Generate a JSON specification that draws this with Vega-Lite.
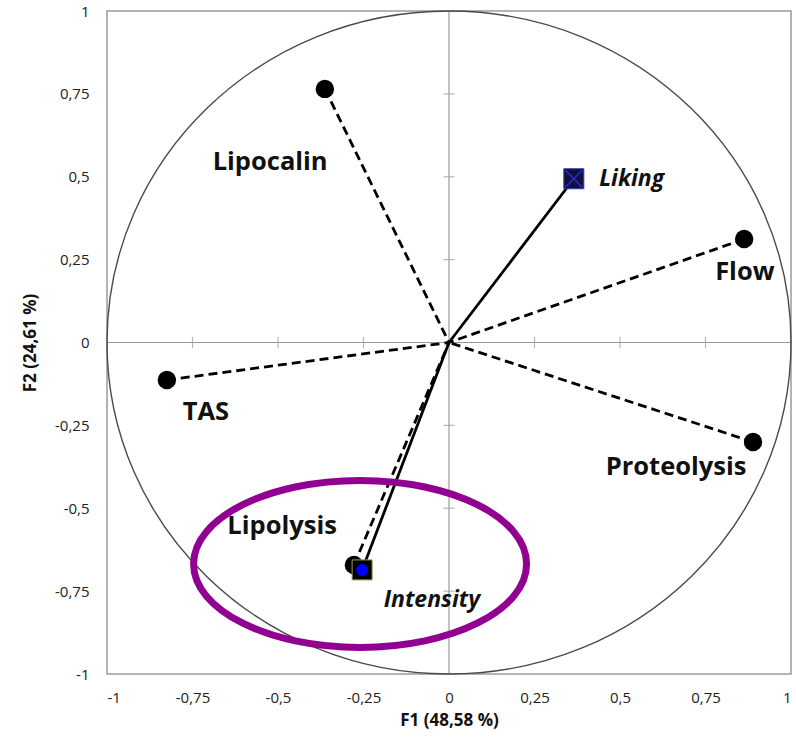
{
  "$schema": "https://vega.github.io/schema/vega-lite/v6.json",
  "width": 684,
  "height": 663,
  "autosize": {"type": "none"},
  "padding": {"left": 107, "top": 11, "right": 5, "bottom": 65},
  "background": "white",
  "config": {
    "view": {"stroke": "#9a9a9a", "strokeWidth": 1.5},
    "font": "Open Sans"
  },
  "datasets": {
    "vars": [
      {"name": "Lipocalin", "type": "var", "x": -0.363, "y": 0.765, "lx": -0.523, "ly": 0.544},
      {"name": "Flow", "type": "var", "x": 0.863, "y": 0.312, "lx": 0.865, "ly": 0.213},
      {"name": "TAS", "type": "var", "x": -0.825, "y": -0.113, "lx": -0.711, "ly": -0.21},
      {"name": "Proteolysis", "type": "var", "x": 0.889, "y": -0.3, "lx": 0.664, "ly": -0.376},
      {"name": "Lipolysis", "type": "var", "x": -0.278, "y": -0.671, "lx": -0.488, "ly": -0.553},
      {"name": "Liking", "type": "sup", "x": 0.365, "y": 0.494, "lx": 0.534, "ly": 0.492},
      {"name": "Intensity", "type": "sup", "x": -0.254, "y": -0.686, "lx": -0.05, "ly": -0.777}
    ],
    "ticks": [
      {"t": -0.75}, {"t": -0.5}, {"t": -0.25}, {"t": 0.25}, {"t": 0.5}, {"t": 0.75}
    ],
    "circle": [{"cx": 0, "cy": 0}],
    "highlight": [{"cx": -0.26, "cy": -0.668}]
  },
  "encoding": {
    "x": {"type": "quantitative", "scale": {"domain": [-1, 1], "nice": false, "zero": false},
      "title": "F1 (48,58 %)",
      "axis": {"values": [-1, -0.75, -0.5, -0.25, 0, 0.25, 0.5, 0.75, 1], "grid": false, "ticks": false, "domain": false,
        "labelExpr": "replace(toString(datum.value), '.', ',')", "labelFontSize": 15, "labelColor": "#222", "labelPadding": 16,
        "titleFontSize": 17, "titleFontWeight": "bold", "titleColor": "#111", "titleY": 46, "titleBaseline": "middle"}},
    "y": {"type": "quantitative", "scale": {"domain": [-1, 1], "nice": false, "zero": false},
      "title": "F2 (24,61 %)",
      "axis": {"values": [-1, -0.75, -0.5, -0.25, 0, 0.25, 0.5, 0.75, 1], "grid": false, "ticks": false, "domain": false,
        "labelExpr": "replace(toString(datum.value), '.', ',')", "labelFontSize": 15, "labelColor": "#222", "labelPadding": 18,
        "titleFontSize": 17, "titleFontWeight": "bold", "titleColor": "#111", "titleX": -77, "titleBaseline": "middle"}}
  },
  "layer": [
    {
      "data": {"name": "circle"},
      "mark": {"type": "rule", "color": "#9a9a9a", "strokeWidth": 1.2},
      "encoding": {
        "x": {"field": "cx", "type": "quantitative"}
      }
    },
    {
      "data": {"name": "circle"},
      "mark": {"type": "rule", "color": "#9a9a9a", "strokeWidth": 1.2},
      "encoding": {
        "y": {"field": "cy", "type": "quantitative"}
      }
    },
    {
      "data": {"name": "ticks"},
      "mark": {"type": "tick", "orient": "horizontal", "color": "#9a9a9a", "size": 11, "thickness": 1.2},
      "encoding": {
        "x": {"datum": 0, "type": "quantitative"},
        "y": {"field": "t", "type": "quantitative"}
      }
    },
    {
      "data": {"name": "ticks"},
      "mark": {"type": "tick", "orient": "vertical", "color": "#9a9a9a", "size": 11, "thickness": 1.2},
      "encoding": {
        "x": {"field": "t", "type": "quantitative"},
        "y": {"datum": 0, "type": "quantitative"}
      }
    },
    {
      "data": {"name": "circle"},
      "mark": {"type": "point", "shape": "M-1,0A1,0.9693,0,1,1,1,0A1,0.9693,0,1,1,-1,0Z", "size": 467856, "filled": false, "stroke": "#4a4a4a", "strokeWidth": 1.4, "opacity": 1},
      "encoding": {
        "x": {"field": "cx", "type": "quantitative"},
        "y": {"field": "cy", "type": "quantitative"}
      }
    },
    {
      "data": {"name": "vars"},
      "transform": [{"filter": "datum.type == 'var'"}],
      "mark": {"type": "rule", "color": "#000", "strokeWidth": 2.8, "strokeDash": [9, 5]},
      "encoding": {
        "x": {"field": "x", "type": "quantitative"},
        "y": {"field": "y", "type": "quantitative"},
        "x2": {"datum": 0},
        "y2": {"datum": 0}
      }
    },
    {
      "data": {"name": "vars"},
      "transform": [{"filter": "datum.type == 'sup'"}],
      "mark": {"type": "rule", "color": "#000", "strokeWidth": 2.8},
      "encoding": {
        "x": {"field": "x", "type": "quantitative"},
        "y": {"field": "y", "type": "quantitative"},
        "x2": {"datum": 0},
        "y2": {"datum": 0}
      }
    },
    {
      "data": {"name": "vars"},
      "transform": [{"filter": "datum.type == 'var'"}],
      "mark": {"type": "point", "shape": "circle", "filled": true, "color": "#000", "size": 340, "opacity": 1},
      "encoding": {
        "x": {"field": "x", "type": "quantitative"},
        "y": {"field": "y", "type": "quantitative"}
      }
    },
    {
      "data": {"name": "vars"},
      "transform": [{"filter": "datum.name == 'Liking'"}],
      "mark": {"type": "point", "shape": "square", "filled": true, "fill": "#101040", "stroke": "#3a3aa0", "strokeWidth": 1, "size": 400, "opacity": 1},
      "encoding": {
        "x": {"field": "x", "type": "quantitative"},
        "y": {"field": "y", "type": "quantitative"}
      }
    },
    {
      "data": {"name": "vars"},
      "transform": [{"filter": "datum.name == 'Liking'"}],
      "mark": {"type": "point", "shape": "M-0.85,-0.85L0.85,0.85M0.85,-0.85L-0.85,0.85", "filled": false, "stroke": "#2a2ad0", "strokeWidth": 1.5, "size": 400, "opacity": 1},
      "encoding": {
        "x": {"field": "x", "type": "quantitative"},
        "y": {"field": "y", "type": "quantitative"}
      }
    },
    {
      "data": {"name": "vars"},
      "transform": [{"filter": "datum.name == 'Intensity'"}],
      "mark": {"type": "point", "shape": "square", "filled": true, "fill": "#000", "stroke": "#9a9a50", "strokeWidth": 1, "size": 400, "opacity": 1},
      "encoding": {
        "x": {"field": "x", "type": "quantitative"},
        "y": {"field": "y", "type": "quantitative"}
      }
    },
    {
      "data": {"name": "vars"},
      "transform": [{"filter": "datum.name == 'Intensity'"}],
      "mark": {"type": "point", "shape": "circle", "filled": true, "color": "#0000ff", "size": 144, "opacity": 1},
      "encoding": {
        "x": {"field": "x", "type": "quantitative"},
        "y": {"field": "y", "type": "quantitative"}
      }
    },
    {
      "data": {"name": "vars"},
      "transform": [{"filter": "datum.type == 'var'"}],
      "mark": {"type": "text", "font": "Open Sans", "fontSize": 25.5, "fontWeight": "bold", "color": "#111", "align": "center", "baseline": "middle"},
      "encoding": {
        "x": {"field": "lx", "type": "quantitative"},
        "y": {"field": "ly", "type": "quantitative"},
        "text": {"field": "name"}
      }
    },
    {
      "data": {"name": "vars"},
      "transform": [{"filter": "datum.type == 'sup'"}],
      "mark": {"type": "text", "font": "Open Sans", "fontSize": 23, "fontWeight": "bold", "fontStyle": "italic", "color": "#111", "align": "center", "baseline": "middle"},
      "encoding": {
        "x": {"field": "lx", "type": "quantitative"},
        "y": {"field": "ly", "type": "quantitative"},
        "text": {"field": "name"}
      }
    },
    {
      "data": {"name": "highlight"},
      "mark": {"type": "point", "shape": "M-1,0A1,0.5015,0,1,1,1,0A1,0.5015,0,1,1,-1,0Z", "size": 110889, "filled": false, "stroke": "#920092", "strokeWidth": 7, "opacity": 1},
      "encoding": {
        "x": {"field": "cx", "type": "quantitative"},
        "y": {"field": "cy", "type": "quantitative"}
      }
    }
  ]
}
